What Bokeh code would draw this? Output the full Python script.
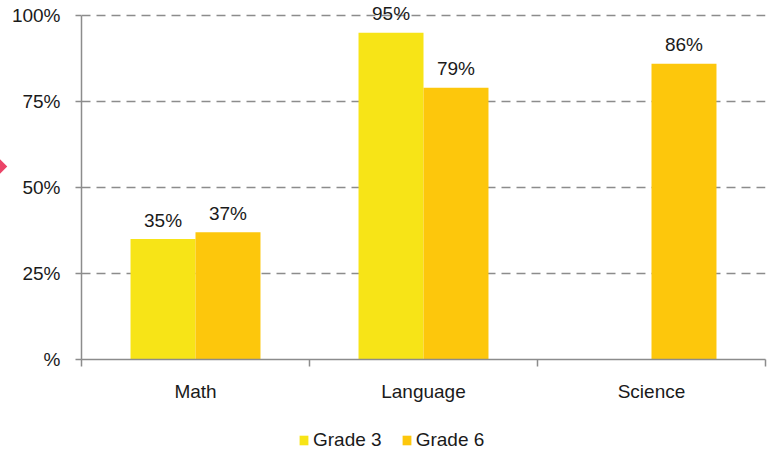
import numpy as np
from bokeh.plotting import figure
from bokeh.layouts import column
from bokeh.models import (ColumnDataSource, FixedTicker, Range1d, Legend,
                          LegendItem, InlineStyleSheet)
from bokeh.core.properties import value
from bokeh.embed import file_html
from bokeh.resources import INLINE

# ---- data ----
categories = ["Math", "Language", "Science"]
series_names = ["Grade 3", "Grade 6"]
grade3 = [35, 95, None]
grade6 = [37, 79, 86]
y_ticks = [0, 25, 50, 75, 100]
y_tick_labels = ["%", "25%", "50%", "75%", "100%"]
colors = ["#F7E417", "#FDC70C"]

FONT = "Liberation Sans"
FS = "19px"
TXT = "#1a1a1a"
AX = "#8c8c8c"

p = figure(width=770, height=410,
           x_range=Range1d(0, len(categories)), y_range=Range1d(0, 104.36),
           output_backend="svg", toolbar_location=None,
           min_border_left=81, min_border_right=5, min_border_top=0,
           min_border_bottom=51)
p.outline_line_color = None
p.background_fill_color = "white"
p.border_fill_color = "white"

bar_w = 0.285
offsets = [-bar_w / 2, bar_w / 2]
sources = []
for vals, col, off in zip([grade3, grade6], colors, offsets):
    xs = [i + 0.5 + off for i in range(len(categories))]
    tops = [np.nan if v is None else v for v in vals]
    src = ColumnDataSource(dict(x=xs, top=tops))
    sources.append(src)
    p.vbar(x="x", top="top", width=bar_w, source=src, fill_color=col,
           line_color=None)
    lx = [x for x, v in zip(xs, vals) if v is not None]
    ly = [v for v in vals if v is not None]
    lt = [f"{v}%" for v in vals if v is not None]
    lsrc = ColumnDataSource(dict(x=lx, y=ly, t=lt))
    p.text(x="x", y="y", text="t", source=lsrc, text_align="center",
           text_baseline="alphabetic", y_offset=-19,
           text_font=value(FONT), text_font_size=FS, text_color=TXT)

# grid
p.xgrid.visible = False
p.ygrid.ticker = FixedTicker(ticks=y_ticks[1:])
p.ygrid.grid_line_color = AX
p.ygrid.grid_line_width = 1.5
p.ygrid.grid_line_dash = "9 6"

# y axis
p.yaxis.ticker = FixedTicker(ticks=y_ticks)
p.yaxis.major_label_overrides = {t: l for t, l in zip(y_ticks, y_tick_labels)}
p.yaxis.bounds = (y_ticks[0], y_ticks[-1])
p.yaxis.axis_line_color = AX
p.yaxis.axis_line_width = 1.5
p.yaxis.major_tick_line_color = AX
p.yaxis.major_tick_line_width = 1.5
p.yaxis.major_tick_out = 6
p.yaxis.major_tick_in = 0
p.yaxis.minor_tick_line_color = None
p.yaxis.major_label_standoff = 15
p.yaxis.major_label_text_font = FONT
p.yaxis.major_label_text_font_size = FS
p.yaxis.major_label_text_color = TXT

# x axis: labels at category centers, ticks at category boundaries
centers = [i + 0.5 for i in range(len(categories))]
bounds = list(range(len(categories) + 1))
p.xaxis.ticker = FixedTicker(ticks=centers, minor_ticks=bounds)
p.xaxis.major_label_overrides = {c: n for c, n in zip(centers, categories)}
p.xaxis.axis_line_color = AX
p.xaxis.axis_line_width = 1.5
p.xaxis.major_tick_line_color = None
p.xaxis.minor_tick_line_color = AX
p.xaxis.minor_tick_line_width = 1.5
p.xaxis.minor_tick_out = 7
p.xaxis.minor_tick_in = 0
p.xaxis.major_tick_out = 7
p.xaxis.major_tick_in = 0
p.xaxis.major_label_standoff = 14
p.xaxis.major_label_text_font = FONT
p.xaxis.major_label_text_font_size = FS
p.xaxis.major_label_text_color = TXT

# decorative diamond at the left edge
p.stylesheets = [InlineStyleSheet(css="""
:host::before {
  content: ""; position: absolute; z-index: 5;
  left: -6px; top: 161px; width: 11px; height: 11px;
  background: #EB4468; transform: rotate(45deg);
}
""")]

# ---- legend strip below the chart ----
lg = figure(width=770, height=42, x_range=Range1d(0, 1), y_range=Range1d(0, 1),
            output_backend="svg", toolbar_location=None,
            x_axis_location=None, y_axis_location=None,
            min_border_left=0, min_border_right=0, min_border_top=0,
            min_border_bottom=0)
lg.outline_line_color = None
lg.grid.visible = False
# hidden renderers that only provide the legend swatches
dummies = []
for src, c in zip(sources, colors):
    r = lg.vbar(x="x", top="top", width=0.1, source=src, fill_color=c,
                line_color=None, visible=False)
    dummies.append(r)
legend = Legend(items=[LegendItem(label=n, renderers=[r])
                       for n, r in zip(series_names, dummies)],
                orientation="horizontal", location=(217, 1),
                glyph_width=11, glyph_height=12, label_standoff=4,
                spacing=19, padding=0, margin=0, click_policy="none",
                border_line_color=None, background_fill_alpha=0,
                label_text_font=FONT, label_text_font_size=FS,
                label_text_baseline="alphabetic",
                label_text_color=TXT)
lg.add_layout(legend, "center")

layout = column(p, lg, spacing=0)
open("out.html", "w").write(file_html(layout, INLINE))
